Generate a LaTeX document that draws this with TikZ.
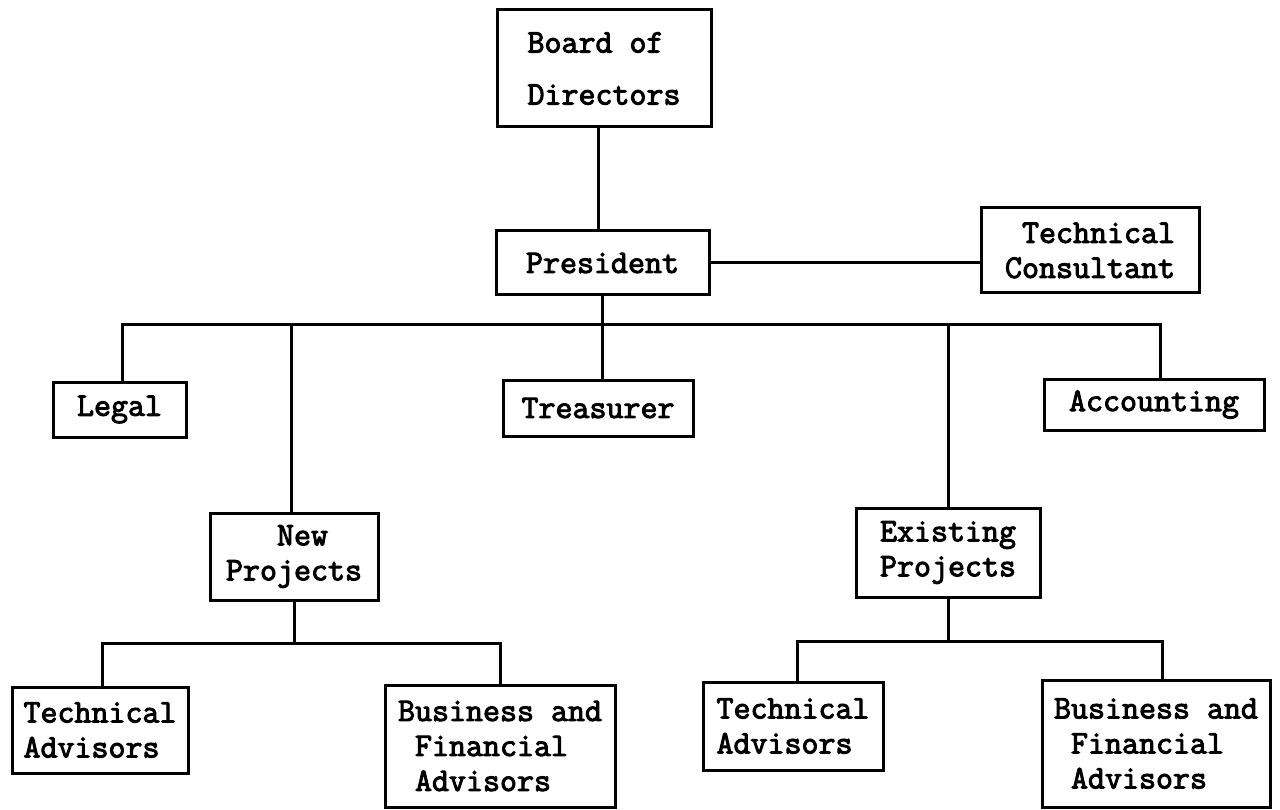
\documentclass[tikz,border=0pt]{standalone}
\usepackage{fontspec}
\newfontfamily\typewriter[FakeBold=3]{Latin Modern Mono}
\begin{document}
\begin{tikzpicture}[x=1pt,y=-1pt,
  box/.style={draw, line width=3pt, inner sep=0pt, align=left,
    font=\typewriter\fontsize{33}{35}\selectfont},
  conn/.style={line width=3pt}]
\useasboundingbox (0,0) rectangle (1280,810);
% boxes
\node[box, minimum width=214pt, minimum height=117pt,
  font=\typewriter\fontsize{33}{52}\selectfont] (B) at (604,68.5) {Board of\\Directors};
\node[box, minimum width=213pt, minimum height=64pt] (P) at (602.5,263) {President};
\node[box, minimum width=218pt, minimum height=85pt] (TC) at (1090,250.5) {\hphantom{C}Technical\\Consultant};
\node[box, minimum width=133pt, minimum height=55pt] (L) at (119.5,409.5) {Legal};
\node[box, minimum width=190pt, minimum height=56pt] (T) at (598,408) {Treasurer};
\node[box, minimum width=220pt, minimum height=51pt] (A) at (1154,404.5) {Accounting};
\node[box, minimum width=168pt, minimum height=87pt] (NP) at (294,556.5) {\hphantom{Pro}New\\Projects};
\node[box, minimum width=184pt, minimum height=89pt] (EP) at (948,552.5) {Existing\\Projects};
\node[box, minimum width=176pt, minimum height=86pt] (TA1) at (100,730) {Technical\\Advisors};
\node[box, minimum width=230pt, minimum height=122pt] (BF1) at (500,746) {Business and\\\hphantom{B}Financial\\\hphantom{B}Advisors};
\node[box, minimum width=180pt, minimum height=88pt] (TA2) at (793,726) {Technical\\Advisors};
\node[box, minimum width=228pt, minimum height=127pt] (BF2) at (1156,743.5) {Business and\\\hphantom{B}Financial\\\hphantom{B}Advisors};
% bus coordinates
\coordinate (busL) at (122,325);
\coordinate (busR) at (1160,325);
\coordinate (dNP) at (291,325);
\coordinate (dEP) at (948,325);
\coordinate (b2L) at (102,643);
\coordinate (b2R) at (500,643);
\coordinate (b3L) at (797,641);
\coordinate (b3R) at (1162,641);
% connectors
\draw[conn] ([xshift=-6pt]B.south) -- ([xshift=-6pt]B.south |- P.north);
\draw[conn] (P.east) -- (P.east -| TC.west);
\draw[conn] (P.south) -- (P.south |- T.north);
\draw[conn] (busL |- L.north) -- (busL) -- (busR) -- (busR |- A.north);
\draw[conn] (dNP) -- (dNP |- NP.north);
\draw[conn] (dEP) -- (EP.north);
\draw[conn] (NP.south) -- (NP.south |- b2L);
\draw[conn] (b2L |- TA1.north) -- (b2L) -- (b2R) -- (BF1.north);
\draw[conn] (EP.south) -- (EP.south |- b3L);
\draw[conn] (b3L |- TA2.north) -- (b3L) -- (b3R) -- (b3R |- BF2.north);
\end{tikzpicture}
\end{document}
